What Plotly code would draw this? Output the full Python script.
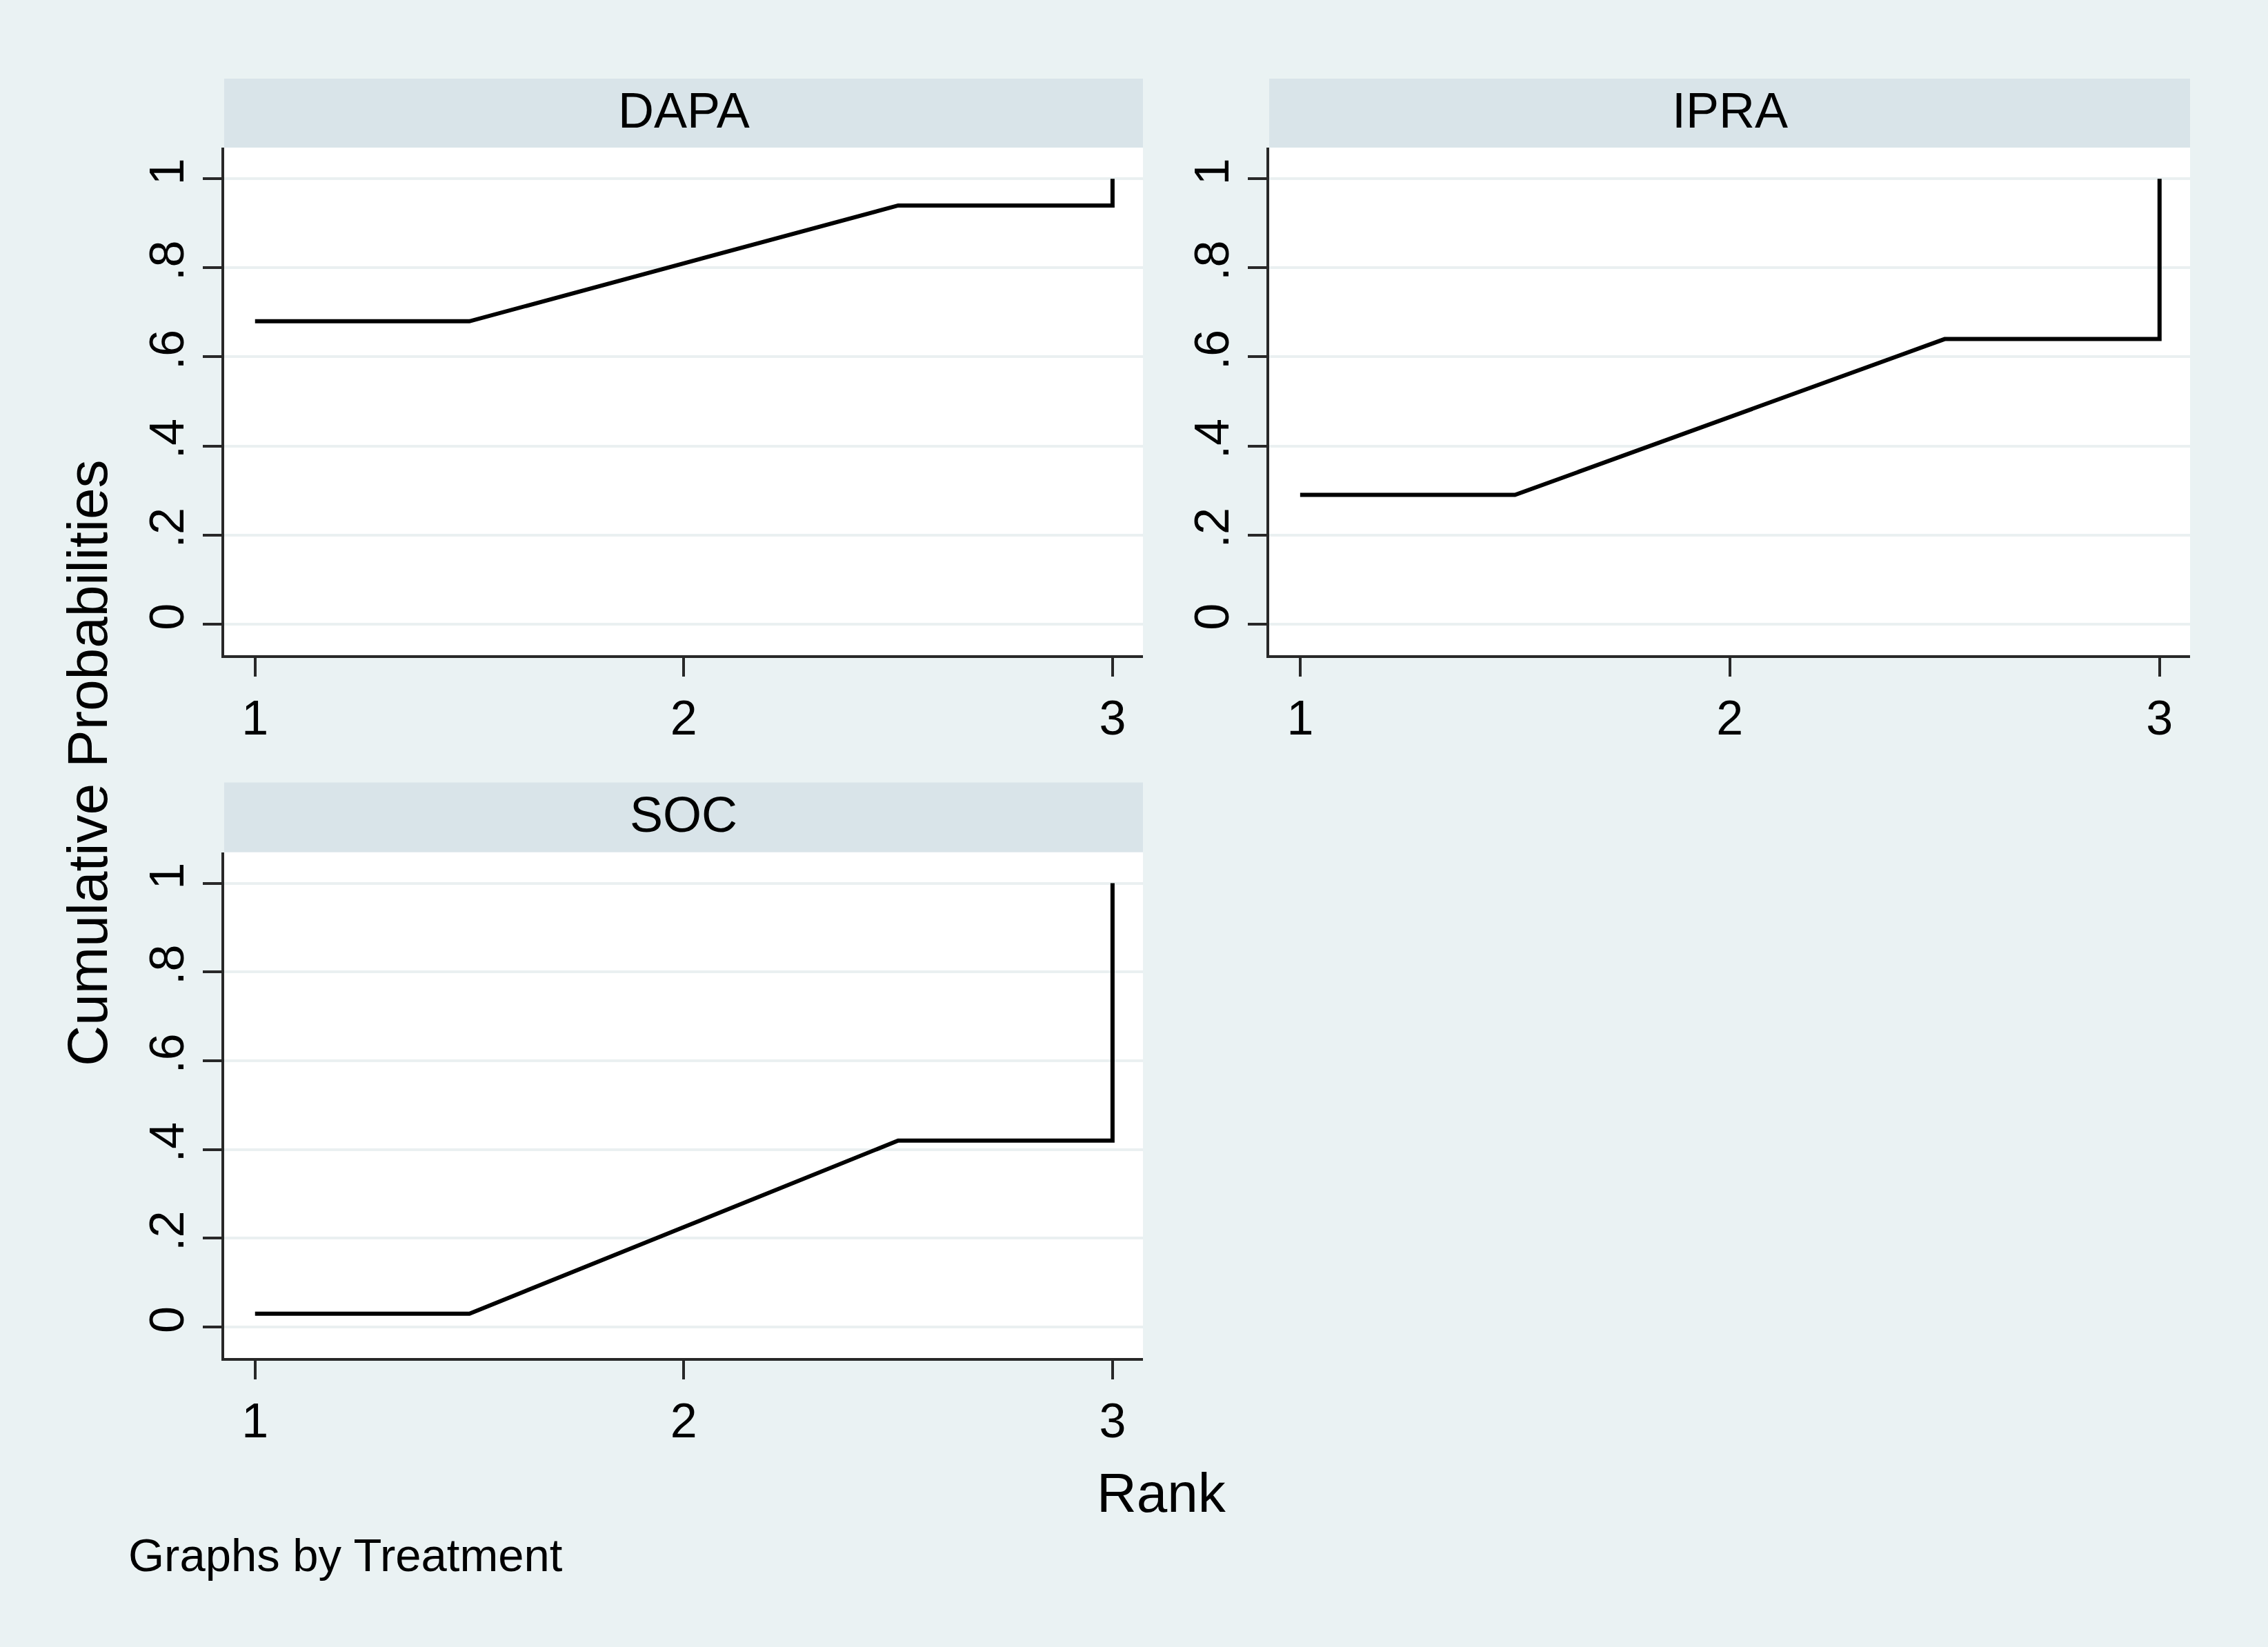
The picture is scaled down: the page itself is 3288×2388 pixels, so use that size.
import plotly.graph_objects as go

# ---- data ----
treatments = ["DAPA", "IPRA", "SOC"]
ranks = [1, 2, 3]
cum_dapa = [0.68, 0.94, 1.0]
cum_ipra = [0.29, 0.64, 1.0]
cum_soc = [0.03, 0.42, 1.0]
x_ticks = [1, 2, 3]
y_ticks = [0, 0.2, 0.4, 0.6, 0.8, 1]
y_ticktext = ["0", ".2", ".4", ".6", ".8", "1"]

series = [cum_dapa, cum_ipra, cum_soc]

W, H = 3288, 2388
BG = "rgb(234,242,243)"
HEAD = "rgb(217,228,233)"
GRID = "rgb(234,240,241)"
FONT = "Liberation Sans, Arial, sans-serif"


def px_x(p):
    return p / W


def px_y(p):
    return 1 - p / H


def step_path(rk, cum):
    # Stata-style cumulative ranking path: flat segment from the first rank,
    # joining the midpoints between ranks, final jump at the last rank.
    xs, ys = [rk[0]], [cum[0]]
    for i in range(len(rk) - 1):
        xs.append((rk[i] + rk[i + 1]) / 2)
        ys.append(cum[i])
    xs.append(rk[-1])
    ys.append(cum[-2])
    xs.append(rk[-1])
    ys.append(cum[-1])
    return xs, ys


# panel geometry in pixels: (left, right, top(plot), bottom(plot), header_top)
panels = [
    (325, 1657, 214, 950, 114),
    (1840, 3175, 214, 950, 114),
    (325, 1657, 1235.5, 1969, 1134.5),
]

fig = go.Figure()
shapes = []
annotations = []

for i, (name, cum, geo) in enumerate(zip(treatments, series, panels)):
    l, r, t, b, ht = geo
    idx = "" if i == 0 else str(i + 1)
    xs, ys = step_path(ranks, cum)
    fig.add_trace(go.Scatter(x=xs, y=ys, mode="lines",
                             line=dict(color="black", width=6),
                             xaxis="x" + idx, yaxis="y" + idx,
                             showlegend=False, hoverinfo="skip"))
    axis_common = dict(showline=True, linecolor="rgb(40,40,40)", linewidth=4,
                       ticks="outside", ticklen=27, tickwidth=4,
                       tickcolor="rgb(40,40,40)", zeroline=False,
                       tickfont=dict(family=FONT, size=70, color="black"))
    fig.update_layout(**{
        "xaxis" + idx: dict(domain=[px_x(l), px_x(r)], range=[0.928, 3.071],
                            tickvals=x_ticks, showgrid=False,
                            anchor="y" + idx, **axis_common),
        "yaxis" + idx: dict(domain=[px_y(b), px_y(t)], range=[-0.07, 1.07],
                            tickvals=y_ticks, ticktext=y_ticktext,
                            tickangle=-90, showgrid=True, gridcolor=GRID,
                            gridwidth=4, anchor="x" + idx, **axis_common),
    })
    shapes.append(dict(type="rect", xref="paper", yref="paper",
                       x0=px_x(l), x1=px_x(r), y0=px_y(t), y1=px_y(ht),
                       fillcolor=HEAD, line=dict(width=0), layer="below"))
    annotations.append(dict(text=name, xref="paper", yref="paper",
                            x=px_x((l + r) / 2), y=px_y((t + ht) / 2 - 4),
                            showarrow=False, xanchor="center", yanchor="middle",
                            font=dict(family=FONT, size=72, color="black")))

annotations.append(dict(text="Cumulative Probabilities", xref="paper", yref="paper",
                        x=px_x(126), y=px_y(1106), textangle=-90, showarrow=False,
                        xanchor="center", yanchor="middle",
                        font=dict(family=FONT, size=82, color="black")))
annotations.append(dict(text="Rank", xref="paper", yref="paper",
                        x=px_x(1684), y=px_y(2164), showarrow=False,
                        xanchor="center", yanchor="middle",
                        font=dict(family=FONT, size=80, color="black")))
annotations.append(dict(text="Graphs by Treatment", xref="paper", yref="paper",
                        x=px_x(184), y=px_y(2254), showarrow=False,
                        xanchor="left", yanchor="middle",
                        font=dict(family=FONT, size=67, color="black")))

fig.update_layout(width=W, height=H, margin=dict(l=0, r=0, t=0, b=0),
                  paper_bgcolor=BG, plot_bgcolor="white",
                  shapes=shapes, annotations=annotations, showlegend=False)

fig.write_html("out.html",
               config={"displayModeBar": False},
               post_script="document.body.style.margin='0';"
                           "document.body.style.overflow='hidden';")
